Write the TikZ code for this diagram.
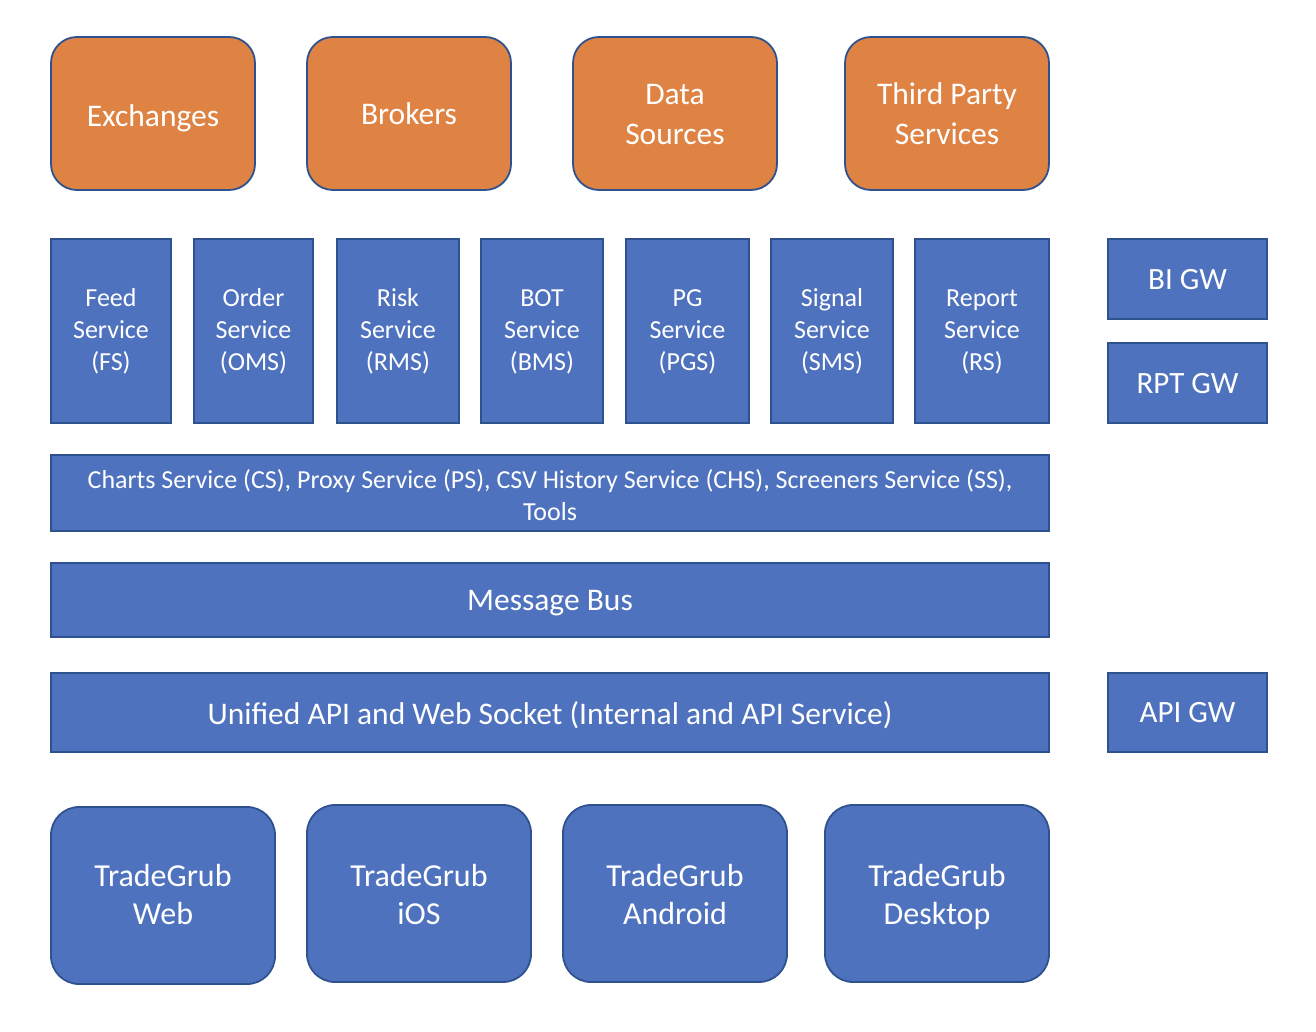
\documentclass[tikz,border=0pt]{standalone}
\usepackage{fontspec}
\setmainfont{Carlito}
\definecolor{orng}{RGB}{223,131,68}
\definecolor{blu}{RGB}{79,114,190}
\definecolor{edge}{RGB}{47,82,143}
\newcommand{\tb}[2]{\raisebox{0pt}[\dimexpr\height+#1\relax][\depth]{\begin{tabular}{@{}c@{}}#2\end{tabular}}}
\begin{document}
\begin{tikzpicture}[x=1pt,y=-1pt,
  base/.style={draw=edge,line width=1.8pt,text=white,anchor=north west,inner sep=0pt,outer sep=0pt},
  ext/.style={base,fill=orng,rounded corners=26pt,font=\fontsize{31.5}{40}\selectfont},
  svc/.style={base,fill=blu,font=\fontsize{26}{32}\selectfont},
  gw/.style={base,fill=blu,font=\fontsize{31}{36}\selectfont},
  bar/.style={base,fill=blu},
  app/.style={base,fill=blu,rounded corners=28pt,font=\fontsize{32}{38}\selectfont}]
\useasboundingbox (0,0) rectangle (1316,1032);
% external systems
\node[ext,minimum width=204pt,minimum height=153pt] (exch) at (51,37) {\tb{11pt}{Exchanges}};
\node[ext,minimum width=204pt,minimum height=153pt] (brok) at (307,37) {\tb{7pt}{Brokers}};
\node[ext,minimum width=204pt,minimum height=153pt] (data) at (573,37) {\tb{7pt}{Data\\Sources}};
\node[ext,minimum width=204pt,minimum height=153pt] (third) at (845,37) {\tb{7pt}{Third Party\\Services}};
% services
\node[svc,minimum width=120pt,minimum height=184pt] (fs) at (51,239) {\tb{2pt}{Feed\\Service\\(FS)}};
\node[svc,minimum width=119pt,minimum height=184pt] (oms) at (194,239) {\tb{2pt}{Order\\Service\\(OMS)}};
\node[svc,minimum width=122pt,minimum height=184pt] (rms) at (337,239) {\tb{2pt}{Risk\\Service\\(RMS)}};
\node[svc,minimum width=122pt,minimum height=184pt] (bms) at (481,239) {\tb{2pt}{BOT\\Service\\(BMS)}};
\node[svc,minimum width=123pt,minimum height=184pt] (pgs) at (626,239) {\tb{2pt}{PG\\Service\\(PGS)}};
\node[svc,minimum width=122pt,minimum height=184pt] (sms) at (771,239) {\tb{2pt}{Signal\\Service\\(SMS)}};
\node[svc,minimum width=134pt,minimum height=184pt] (rs) at (915,239) {\tb{2pt}{Report\\Service\\(RS)}};
% gateways
\node[gw,minimum width=159pt,minimum height=80pt] (bigw) at (1108,239) {\tb{6pt}{BI GW}};
\node[gw,minimum width=159pt,minimum height=80pt] (rptgw) at (1108,343) {\tb{6pt}{RPT GW}};
\node[gw,minimum width=159pt,minimum height=79pt] (apigw) at (1108,673) {\tb{6pt}{API GW}};
% bars
\node[bar,font=\fontsize{26}{32}\selectfont,minimum width=998pt,minimum height=76pt] (cs) at (51,455) {\tb{10pt}{Charts Service (CS), Proxy Service (PS), CSV History Service (CHS), Screeners Service (SS),\\Tools}};
\node[bar,font=\fontsize{31.5}{36}\selectfont,minimum width=998pt,minimum height=74pt] (bus) at (51,563) {\tb{6pt}{Message Bus}};
\node[bar,font=\fontsize{31.5}{36}\selectfont,minimum width=998pt,minimum height=79pt] (api) at (51,673) {\tb{9pt}{Unified API and Web Socket (Internal and API Service)}};
% apps
\node[app,minimum width=224pt,minimum height=177pt] (web) at (51,807) {\tb{4pt}{TradeGrub\\Web}};
\node[app,minimum width=224pt,minimum height=177pt] (ios) at (307,805) {\tb{8pt}{TradeGrub\\iOS}};
\node[app,minimum width=224pt,minimum height=177pt] (andr) at (563,805) {\tb{8pt}{TradeGrub\\Android}};
\node[app,minimum width=224pt,minimum height=177pt] (desk) at (825,805) {\tb{8pt}{TradeGrub\\Desktop}};
\end{tikzpicture}
\end{document}
